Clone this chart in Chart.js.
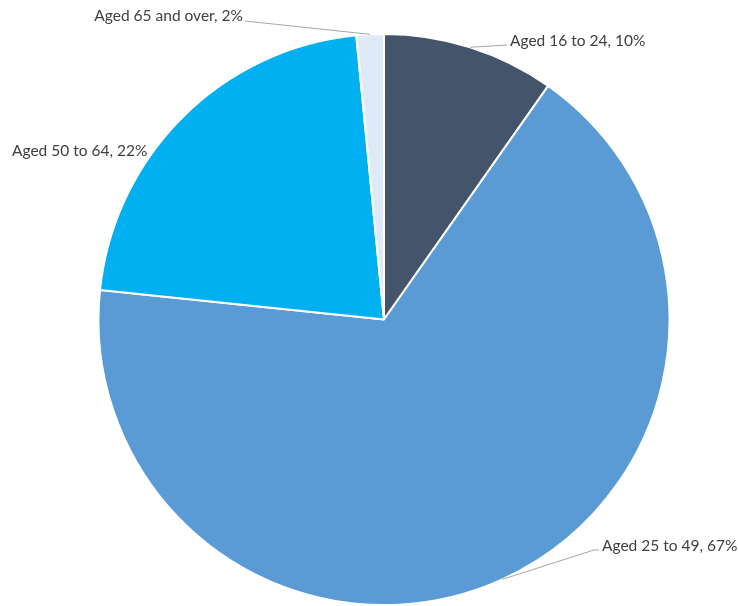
<!DOCTYPE html>
<html>
<head>
<meta charset="utf-8">
<script src="https://cdn.jsdelivr.net/npm/chart.js@4.4.1/dist/chart.umd.min.js"></script>
<style>
  html, body { margin: 0; padding: 0; background: #fff; }
  #wrap { width: 738px; height: 606px; position: relative; }
</style>
</head>
<body>
<div id="wrap"><canvas id="chart"></canvas></div>
<script>
// Age bands, clockwise from 12 o'clock
const categories = ['Aged 16 to 24', 'Aged 25 to 49', 'Aged 50 to 64', 'Aged 65 and over'];
const shares = [9.75, 66.9, 21.8, 1.55];
const sliceColors = ['#44546A', '#5B9BD5', '#00B0F0', '#DEEBF7'];

// Where each data label sits (text anchor) and where its leader line bends
const labelSpots = [
  { x: 510, y: 46, align: 'left', leader: [[507, 45]] },
  { x: 602, y: 551, align: 'left', leader: [[599, 550], [594, 550]] },
  { x: 12, y: 156, align: 'left', leader: null },
  { x: 243, y: 21, align: 'right', leader: [[245, 21]] }
];

const FONT = '15.5px Lato, "Liberation Sans", sans-serif';

// Draw the "Category, NN%" labels with thin grey leader lines
const outsideLabels = {
  id: 'outsideLabels',
  afterDatasetsDraw(chart) {
    const ctx = chart.ctx;
    const meta = chart.getDatasetMeta(0);
    ctx.save();
    meta.data.forEach((arc, i) => {
      const spot = labelSpots[i];
      const p = arc.getProps(['x', 'y', 'startAngle', 'endAngle', 'outerRadius'], true);
      const mid = (p.startAngle + p.endAngle) / 2;
      const ax = p.x + Math.cos(mid) * p.outerRadius;
      const ay = p.y + Math.sin(mid) * p.outerRadius;

      if (spot.leader) {
        ctx.strokeStyle = '#A6A6A6';
        ctx.lineWidth = 1;
        ctx.beginPath();
        ctx.moveTo(ax, ay);
        // leader points are listed from text end to arc; walk them backwards
        for (let k = spot.leader.length - 1; k >= 0; k--) {
          ctx.lineTo(spot.leader[k][0], spot.leader[k][1]);
        }
        ctx.stroke();
      }

      ctx.fillStyle = '#404040';
      ctx.font = FONT;
      ctx.textAlign = spot.align;
      ctx.textBaseline = 'alphabetic';
      ctx.fillText(categories[i] + ', ' + Math.round(shares[i]) + '%', spot.x, spot.y);
    });
    ctx.restore();
  }
};

new Chart(document.getElementById('chart'), {
  type: 'pie',
  data: {
    labels: categories,
    datasets: [{
      data: shares,
      backgroundColor: sliceColors,
      borderColor: '#ffffff',
      borderWidth: 2
    }]
  },
  options: {
    responsive: true,
    maintainAspectRatio: false,
    animation: false,
    layout: { padding: { top: 33, bottom: -1, left: 97, right: 67 } },
    plugins: {
      legend: { display: false },
      tooltip: { enabled: false }
    }
  },
  plugins: [outsideLabels]
});
</script>
</body>
</html>
